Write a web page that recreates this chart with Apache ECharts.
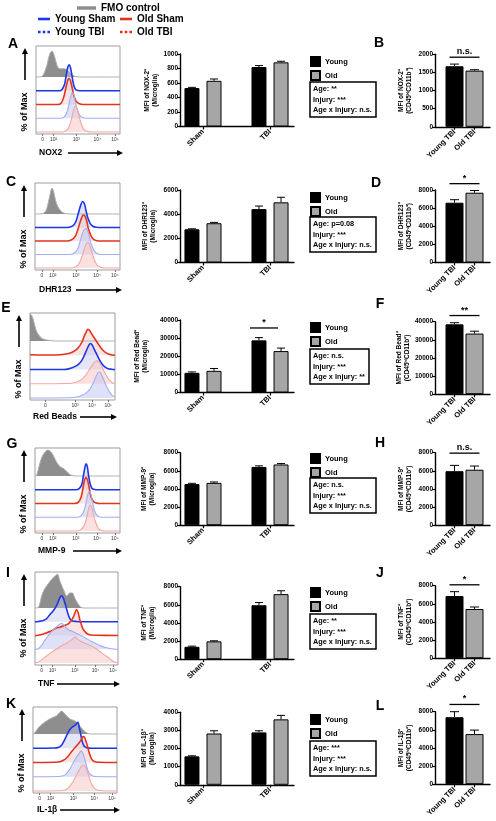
<!DOCTYPE html>
<html>
<head>
<meta charset="utf-8">
<script src="https://cdn.jsdelivr.net/npm/echarts@6.0.0/dist/echarts.min.js"></script>
<style>
html,body{margin:0;padding:0;background:#fff;}
#chart{width:496px;height:821px;}
</style>
</head>
<body>
<div id="chart"></div>
<script>
// ================= DATA =================
const legendNames = ['FMO control', 'Young Sham', 'Old Sham', 'Young TBI', 'Old TBI'];
const leftLetters = ['A', 'C', 'E', 'G', 'I', 'K'];
const rightLetters = ['B', 'D', 'F', 'H', 'J', 'L'];
const markerNames = ['NOX2', 'DHR123', 'Red Beads', 'MMP-9', 'TNF', 'IL-1β'];
const mfiNames = ['MFI of NOX-2⁺', 'MFI of DHR123⁺', 'MFI of Red Bead⁺', 'MFI of MMP-9⁺', 'MFI of TNF⁺', 'MFI of IL-1β⁺'];
const midSub = '(Microglia)';
const rightSub = '(CD45ʰⁱCD11b⁺)';
const groupCats = ['Sham', 'TBI'];
const tbiCats = ['Young TBI', 'Old TBI'];
const barNames = ['Young', 'Old'];

const midMax = [1000, 6000, 40000, 8000, 8000, 4000];
const midStep = [200, 2000, 10000, 2000, 2000, 1000];
const rightMax = [2000, 8000, 40000, 8000, 8000, 8000];
const rightStep = [500, 2000, 10000, 2000, 2000, 2000];

// middle charts: [Sham, TBI]
const youngMean = [[530, 820], [2750, 4420], [10850, 28770], [4540, 6430], [1370, 5950], [1570, 2890]];
const youngErr  = [[10, 20], [40, 250], [500, 1500], [80, 120], [70, 300], [30, 90]];
const oldMean   = [[630, 885], [3250, 4980], [11950, 22850], [4670, 6700], [1970, 7180], [2830, 3610]];
const oldErr    = [[25, 15], [70, 420], [1300, 1650], [100, 100], [60, 370], [150, 220]];
const midSig = ['', '', '*', '', '', ''];
const midSigLevel = [0, 0, 35600, 0, 0, 0];

// right charts: Young TBI, Old TBI
const tbiYoung    = [1670, 6600, 38530, 5960, 6860, 7390];
const tbiYoungErr = [60, 330, 900, 640, 480, 610];
const tbiOld      = [1550, 7700, 33460, 6120, 5430, 5530];
const tbiOldErr   = [25, 250, 1300, 410, 220, 440];
const tbiSig = ['n.s.', '*', '**', 'n.s.', '*', '*'];
const tbiSigLevel = [1920, 8700, 43400, 7950, 8100, 8800];

const statsLines = [
  ['Age: **', 'Injury: ***', 'Age x Injury: n.s.'],
  ['Age: p=0.08', 'Injury: ***', 'Age x Injury: n.s.'],
  ['Age: n.s.', 'Injury: ***', 'Age x Injury: **'],
  ['Age: n.s.', 'Injury: ***', 'Age x Injury: n.s.'],
  ['Age: **', 'Injury: ***', 'Age x Injury: n.s.'],
  ['Age: ***', 'Injury: ***', 'Age x Injury: n.s.']
];

// histogram axis ticks (display position 0..100 across the frame)
const histTickLabels = ['0', '10²', '10³', '10⁴', '10⁵'];
const histTickPos = [8, 21, 48, 73, 94];
const histTickLabelsE = ['0', '10³', '10⁴', '10⁵'];
const histTickPosE = [18, 53, 73, 92];

const laneOrderStd = ['FMO control', 'Young Sham', 'Old Sham', 'Young TBI', 'Old TBI'];
const laneOrderE = ['FMO control', 'Old Sham', 'Young Sham', 'Old TBI', 'Young TBI'];

// histograms: [position, % of max]
const histA_FMO = [[0,0],[6,1],[9,10],[13,45],[16,85],[19,100],[22,80],[25,45],[28,32],[32,32],[36,30],[40,18],[44,6],[48,1],[55,0],[100,0]];
const histA_YS = [[0,0],[28,0],[31,5],[34,25],[36,60],[38,92],[39.5,100],[41,90],[43,55],[45,20],[47,6],[50,1],[55,0],[100,0]];
const histA_OS = [[0,0],[26,0],[30,6],[33,28],[36,70],[38,95],[39.5,100],[41,92],[43,65],[45,35],[48,12],[51,4],[56,0],[100,0]];
const histA_YT = [[0,0],[30,0],[34,6],[37,25],[40,65],[42,92],[43.5,100],[45,90],[47,60],[50,25],[53,8],[57,1],[62,0],[100,0]];
const histA_OT = [[0,0],[32,0],[36,5],[40,25],[43,60],[45,88],[47,100],[49,90],[51,65],[54,30],[57,10],[61,2],[66,0],[100,0]];

const histC_FMO = [[0,0],[8,1],[12,8],[15,35],[18,80],[20,100],[22,85],[24,55],[26,35],[28,22],[31,10],[34,4],[38,1],[44,0],[100,0]];
const histC_YS = [[0,0],[38,0],[44,5],[48,22],[51,55],[54,88],[56,100],[58,92],[60,65],[62,38],[65,15],[68,5],[72,1],[78,0],[100,0]];
const histC_OS = [[0,0],[38,0],[44,6],[48,22],[51,50],[54,82],[57,100],[59,95],[61,75],[63,45],[66,20],[69,6],[73,1],[78,0],[100,0]];
const histC_YT = [[0,0],[40,0],[46,5],[50,20],[53,50],[56,82],[58,96],[60,100],[62,90],[64,68],[66,42],[69,18],[72,6],[76,1],[80,0],[100,0]];
const histC_OT = [[0,0],[42,0],[48,5],[52,18],[55,42],[58,72],[60,90],[62,100],[64,92],[66,72],[68,48],[71,22],[74,8],[78,2],[82,0],[100,0]];

const histE_FMO = [[0,105],[2,98],[4,80],[6,55],[8,35],[11,20],[14,10],[18,5],[23,2],[30,0],[100,0]];
const histE_OS = [[0,2],[20,1],[35,2],[42,5],[48,10],[53,18],[57,30],[61,50],[64,75],[66,88],[68,100],[70,96],[72,85],[75,70],[78,55],[81,40],[85,22],[89,10],[93,4],[97,1],[100,0]];
const histE_YS = [[0,0],[40,0],[47,4],[52,10],[57,20],[61,35],[64,55],[67,78],[69,92],[71,100],[73,95],[75,82],[78,62],[81,42],[84,25],[88,10],[92,3],[96,1],[100,0]];
const histE_OT = [[0,0],[45,1],[52,4],[57,10],[62,20],[66,35],[70,55],[74,75],[77,86],[79,88],[82,80],[85,62],[88,42],[91,25],[94,12],[97,4],[100,1]];
const histE_YT = [[0,0],[48,1],[55,4],[60,9],[65,17],[70,32],[74,55],[77,78],[80,98],[82,100],[84,90],[87,68],[90,45],[93,26],[96,12],[100,4]];

const histG_FMO = [[0,0],[2,3],[5,40],[8,72],[11,88],[15,100],[18,95],[21,82],[24,62],[27,45],[30,35],[33,30],[36,22],[39,12],[42,4],[45,1],[50,0],[100,0]];
const histG_YS = [[0,0],[48,0],[52,4],[55,20],[57,55],[59,90],[60,100],[61.5,90],[63,55],[65,22],[67,6],[70,1],[74,0],[100,0]];
const histG_OS = [[0,0],[47,0],[51,5],[54,22],[56,50],[58,85],[60,100],[62,88],[64,55],[66,25],[69,7],[72,2],[76,0],[100,0]];
const histG_YT = [[0,0],[50,0],[54,5],[57,20],[60,55],[62,85],[64,100],[66,85],[68,55],[70,25],[73,7],[76,1],[80,0],[100,0]];
const histG_OT = [[0,0],[50,0],[54,5],[58,22],[61,55],[63,85],[65,100],[67,88],[69,60],[72,28],[75,8],[78,2],[82,0],[100,0]];

const histI_FMO = [[0,0],[4,2],[8,46],[11,70],[14,85],[17,98],[20,110],[24,122],[27,130],[30,104],[33,80],[36,58],[38,46],[40,52],[42,58],[45,58],[48,38],[52,15],[55,4],[58,0],[100,0]];
const histI_YS = [[0,0],[4,1],[10,5],[14,12],[18,28],[22,42],[26,62],[29,85],[31,98],[32,100],[34,92],[36,72],[38,50],[40,28],[42,12],[45,3],[50,1],[55,0],[100,0]];
const histI_OS = [[0,0],[4,1],[10,6],[15,12],[20,18],[25,28],[30,32],[35,38],[40,45],[43,55],[46,70],[48,85],[50,100],[52,88],[54,60],[56,40],[58,24],[61,12],[64,5],[68,2],[75,1],[100,0]];
const histI_YT = [[0,0],[4,2],[8,15],[12,35],[16,52],[20,68],[24,80],[28,92],[32,100],[36,88],[40,75],[44,70],[48,64],[52,58],[56,52],[60,45],[64,37],[68,30],[72,24],[76,17],[80,12],[85,7],[90,3],[95,1],[100,0]];
const histI_OT = [[0,0],[3,2],[8,12],[13,25],[18,38],[23,48],[28,58],[33,68],[38,76],[43,86],[46,94],[48,100],[51,92],[55,84],[60,76],[65,70],[70,62],[74,54],[78,44],[82,35],[86,26],[90,16],[94,7],[98,2],[100,0]];

const histK_FMO = [[0,0],[2,4],[6,22],[11,38],[16,50],[20,58],[24,64],[28,70],[31,80],[34,88],[36,84],[38,77],[41,66],[44,58],[47,54],[50,50],[53,42],[56,30],[59,18],[62,9],[65,3],[68,0],[100,0]];
const histK_YS = [[0,0],[25,1],[30,3],[34,12],[38,35],[41,55],[44,72],[47,82],[50,88],[52,95],[53.5,100],[55,80],[57,50],[59,22],[61,8],[64,2],[70,0],[100,0]];
const histK_OS = [[0,0],[25,1],[32,3],[38,12],[42,25],[46,42],[50,58],[54,72],[57,85],[59,98],[60.5,100],[62,92],[64,72],[66,48],[68,27],[70,12],[73,4],[78,1],[100,0]];
const histK_YT = [[0,0],[30,1],[36,4],[40,12],[44,30],[48,55],[51,72],[54,85],[56,95],[57.5,100],[59,92],[61,75],[63,50],[65,28],[67,14],[70,5],[74,1],[100,0]];
const histK_OT = [[0,0],[32,1],[38,4],[42,12],[46,28],[50,50],[54,75],[57,92],[59.5,100],[62,95],[64,82],[66,62],[68,40],[71,20],[74,8],[78,2],[100,0]];

// ================= LAYOUT / STYLE =================
const FONT = 'Liberation Sans, Arial, Helvetica, sans-serif';
const histRows = [
  {'FMO control': histA_FMO, 'Young Sham': histA_YS, 'Old Sham': histA_OS, 'Young TBI': histA_YT, 'Old TBI': histA_OT},
  {'FMO control': histC_FMO, 'Young Sham': histC_YS, 'Old Sham': histC_OS, 'Young TBI': histC_YT, 'Old TBI': histC_OT},
  {'FMO control': histE_FMO, 'Young Sham': histE_YS, 'Old Sham': histE_OS, 'Young TBI': histE_YT, 'Old TBI': histE_OT},
  {'FMO control': histG_FMO, 'Young Sham': histG_YS, 'Old Sham': histG_OS, 'Young TBI': histG_YT, 'Old TBI': histG_OT},
  {'FMO control': histI_FMO, 'Young Sham': histI_YS, 'Old Sham': histI_OS, 'Young TBI': histI_YT, 'Old TBI': histI_OT},
  {'FMO control': histK_FMO, 'Young Sham': histK_YS, 'Old Sham': histK_OS, 'Young TBI': histK_YT, 'Old TBI': histK_OT}
];
const laneOrders = [laneOrderStd, laneOrderStd, laneOrderE, laneOrderStd, laneOrderStd, laneOrderStd];
const tickSets = [[histTickPos, histTickLabels], [histTickPos, histTickLabels], [histTickPosE, histTickLabelsE],
                  [histTickPos, histTickLabels], [histTickPos, histTickLabels], [histTickPos, histTickLabels]];

const histStyle = {
  'FMO control': {line: '#b0b0b0', w: 1, area: '#8e8e8e'},
  'Young Sham': {line: '#1f35e8', w: 1.6, area: 'rgba(195,200,240,0.45)'},
  'Old Sham':   {line: '#e2341d', w: 1.6, area: 'rgba(240,195,190,0.45)'},
  'Young TBI':  {line: '#a3adf2', w: 1.1, area: 'rgba(195,200,242,0.55)'},
  'Old TBI':    {line: '#f2a6a2', w: 1.1, area: 'rgba(246,200,198,0.55)'}
};

const boxLeft = [36, 35, 30, 35, 35, 33];
const boxRight = [120, 120, 115, 120, 118, 117];
const boxTop = [46, 183, 313, 448, 572, 707];
const boxBottom = [134, 270, 400, 533, 665, 793];
const laneGap = [13.75, 13.5, 14.25, 13.75, 13.75, 14.25];
const laneH = 26;
const markerX = [39, 39, 33, 38, 38, 37];
const markerY = [153, 290, 417, 551, 684, 810];
const markerArrow = [[68, 123], [76, 122], [80, 117], [73, 122], [57, 120], [60, 120]];

const plotH = 72.5;
const midTop = [54, 190, 320, 452.7, 586.7, 712.3];
const midLeft = 180, midWidth = 114, midXMin = 0.657, midXMax = 2.358, midBarW = 15, midGapPct = 0.47;
const midNameGap = [21, 23, 31, 24, 24, 24];
const rightTop = [54.3, 190, 321.7, 452.7, 585.7, 711.7];
const rightLeft = 435, rightWidth = 55, rightXMin = 0.025, rightXMax = 2.775, rightBarW = 18;
const rightNameGap = [22, 22, 22, 22, 22, 22];

const leftLetterPos = [[13, 44], [11, 182], [6, 308], [12, 444], [8, 573], [11, 704]];
const rightLetterPos = [[379, 43], [376, 183], [380, 304], [380, 443], [380, 573], [380, 706]];
const rowLegendTop = [56, 192, 322, 453, 587, 714];
const statsTop = [82, 217, 349, 478, 614, 741];
const statsLeft = 310;

// ================= BUILD =================
const grid = [], xAxis = [], yAxis = [], series = [], title = [], legend = [], graphic = [];
function addGrid(g, xa, ya) {
  grid.push(g);
  const i = grid.length - 1;
  xAxis.push(Object.assign({gridIndex: i}, xa));
  yAxis.push(Object.assign({gridIndex: i}, ya));
  return i;
}
function barXAxis(min, max, cats) {
  const vals = cats.map((c, i) => i + 1);
  return {
    type: 'value', min, max,
    axisLine: {show: true, onZero: false, lineStyle: {color: '#000', width: 1.4}},
    axisTick: {show: true, customValues: vals, length: 3, lineStyle: {color: '#000', width: 1.2}},
    axisLabel: {show: true, customValues: vals, formatter: v => cats[Math.round(v) - 1], rotate: 45,
      fontSize: 7.5, fontWeight: 'bold', color: '#000', margin: 4, fontFamily: FONT},
    splitLine: {show: false}
  };
}
function barYAxis(max, step, name, gap) {
  return {
    type: 'value', min: 0, max, interval: step,
    axisLine: {show: true, lineStyle: {color: '#000', width: 1.4}},
    axisTick: {show: true, length: 3, lineStyle: {color: '#000', width: 1.2}},
    axisLabel: {fontSize: 6.5, fontWeight: 'bold', color: '#000', margin: 2, fontFamily: FONT, formatter: v => String(v)},
    splitLine: {show: false},
    name, nameLocation: 'middle', nameRotate: 90, nameGap: gap,
    nameTextStyle: {fontSize: 6.5, fontWeight: 'bold', color: '#000', lineHeight: 8, fontFamily: FONT}
  };
}
function errSeries(gi, data, offsetPx, cap) {
  return {
    type: 'custom', name: 'err', xAxisIndex: gi, yAxisIndex: gi, data, z: 5, silent: true,
    renderItem(params, api) {
      const x = api.value(0), m = api.value(1), e = api.value(2);
      const a = api.coord([x, m]), b = api.coord([x, m + e]);
      const cx = a[0] + offsetPx;
      return {type: 'group', children: [
        {type: 'line', shape: {x1: cx, y1: a[1], x2: cx, y2: b[1]}, style: {stroke: '#000', lineWidth: 1}},
        {type: 'line', shape: {x1: cx - cap, y1: b[1], x2: cx + cap, y2: b[1]}, style: {stroke: '#000', lineWidth: 1}}
      ]};
    }
  };
}
function sigSeries(gi, data, label, padL, padR) {
  return {
    type: 'custom', name: 'sig', xAxisIndex: gi, yAxisIndex: gi, data, z: 5, silent: true,
    renderItem(params, api) {
      const a = api.coord([api.value(0), api.value(2)]);
      const b = api.coord([api.value(1), api.value(2)]);
      const x1 = a[0] + padL, x2 = b[0] + padR;
      return {type: 'group', children: [
        {type: 'line', shape: {x1, y1: a[1], x2, y2: a[1]}, style: {stroke: '#000', lineWidth: 1.3}},
        {type: 'text', x: (x1 + x2) / 2, y: a[1] - 1,
          style: {text: label, textAlign: 'center', textVerticalAlign: 'bottom',
            font: 'bold 9px ' + FONT, fill: '#000'}}
      ]};
    }
  };
}
function txt(x, y, text, font, opts) {
  return Object.assign({type: 'text', x, y, silent: true,
    style: {text, font, fill: '#000', textAlign: 'left', textVerticalAlign: 'middle'}}, opts || {});
}

for (let r = 0; r < 6; r++) {
  // ---------- histogram ----------
  const bl = boxLeft[r], bw = boxRight[r] - bl, bt = boxTop[r], bb = boxBottom[r];
  const tp = tickSets[r][0], tl = tickSets[r][1];
  addGrid({left: bl, top: bt, width: bw, height: bb - bt, show: true, borderColor: '#9d9d9d', borderWidth: 1, backgroundColor: 'transparent'},
    {type: 'value', min: 0, max: 100, axisLine: {show: false}, splitLine: {show: false},
      axisTick: {show: true, customValues: tp, length: 2, lineStyle: {color: '#555', width: 0.8}},
      axisLabel: {show: true, customValues: tp, formatter: v => tl[tp.indexOf(v)], fontSize: 5, color: '#333', margin: 3, fontFamily: FONT}},
    {type: 'value', min: 0, max: 1, show: false});
  for (let i = 0; i < 5; i++) {
    const name = laneOrders[r][i];
    const base = bb - 2 - (4 - i) * laneGap[r];
    const g = addGrid({left: bl, top: base - laneH, width: bw, height: laneH},
      {type: 'value', min: 0, max: 100, show: false},
      {type: 'value', min: 0, max: 100, show: false});
    const st = histStyle[name];
    series.push({type: 'line', name, xAxisIndex: g, yAxisIndex: g, data: histRows[r][name],
      smooth: 0.35, symbol: 'none', clip: false, silent: true,
      lineStyle: {color: st.line, width: st.w}, itemStyle: {color: st.line},
      areaStyle: {color: st.area, opacity: 1}});
  }
  // axis titles with arrows
  const my = markerY[r], ar = markerArrow[r];
  graphic.push(txt(markerX[r], my, markerNames[r], 'bold 8.5px ' + FONT));
  graphic.push({type: 'line', silent: true, shape: {x1: ar[0], y1: my, x2: ar[1] - 5, y2: my}, style: {stroke: '#000', lineWidth: 1.6}});
  graphic.push({type: 'polygon', silent: true, shape: {points: [[ar[1] - 6, my - 3], [ar[1], my], [ar[1] - 6, my + 3]]}, style: {fill: '#000'}});
  const px = bl - 11;
  graphic.push({type: 'line', silent: true, shape: {x1: px, y1: bt + 8, x2: px, y2: bt + 34}, style: {stroke: '#000', lineWidth: 1.6}});
  graphic.push({type: 'polygon', silent: true, shape: {points: [[px - 3, bt + 8], [px, bt + 2], [px + 3, bt + 8]]}, style: {fill: '#000'}});
  graphic.push(txt(px, bt + 66, '% of Max', 'bold 9px ' + FONT, {rotation: Math.PI / 2,
    style: {text: '% of Max', font: 'bold 9px ' + FONT, fill: '#000', textAlign: 'center', textVerticalAlign: 'middle'}}));

  // ---------- middle bar chart ----------
  const gm = addGrid({left: midLeft, top: midTop[r], width: midWidth, height: plotH},
    barXAxis(midXMin, midXMax, groupCats),
    barYAxis(midMax[r], midStep[r], mfiNames[r] + '\n' + midSub, midNameGap[r]));
  series.push({type: 'bar', name: 'Young', xAxisIndex: gm, yAxisIndex: gm, silent: true,
    data: groupCats.map((c, i) => [i + 1, youngMean[r][i]]), barWidth: midBarW, barGap: (midGapPct * 100) + '%',
    itemStyle: {color: '#000', borderColor: '#000', borderWidth: 1}});
  series.push({type: 'bar', name: 'Old', xAxisIndex: gm, yAxisIndex: gm, silent: true,
    data: groupCats.map((c, i) => [i + 1, oldMean[r][i]]), barWidth: midBarW, barGap: (midGapPct * 100) + '%',
    itemStyle: {color: '#a6a6a6', borderColor: '#000', borderWidth: 1}});
  const off = midBarW * (1 + midGapPct) / 2;
  series.push(errSeries(gm, groupCats.map((c, i) => [i + 1, youngMean[r][i], youngErr[r][i]]), -off, 4));
  series.push(errSeries(gm, groupCats.map((c, i) => [i + 1, oldMean[r][i], oldErr[r][i]]), off, 4));
  if (midSig[r]) series.push(sigSeries(gm, [[2, 2, midSigLevel[r]]], midSig[r], -off - 9, off - 3));

  // ---------- right bar chart ----------
  const gr = addGrid({left: rightLeft, top: rightTop[r], width: rightWidth, height: plotH},
    barXAxis(rightXMin, rightXMax, tbiCats),
    barYAxis(rightMax[r], rightStep[r], mfiNames[r] + '\n' + rightSub, rightNameGap[r]));
  series.push({type: 'bar', name: 'Young', xAxisIndex: gr, yAxisIndex: gr, silent: true,
    data: [[1, tbiYoung[r]]], barWidth: rightBarW, barGap: '-100%',
    itemStyle: {color: '#000', borderColor: '#000', borderWidth: 1}});
  series.push({type: 'bar', name: 'Old', xAxisIndex: gr, yAxisIndex: gr, silent: true,
    data: [[2, tbiOld[r]]], barWidth: rightBarW, barGap: '-100%',
    itemStyle: {color: '#a6a6a6', borderColor: '#000', borderWidth: 1}});
  series.push(errSeries(gr, [[1, tbiYoung[r], tbiYoungErr[r]]], 0, 4.5));
  series.push(errSeries(gr, [[2, tbiOld[r], tbiOldErr[r]]], 0, 4.5));
  series.push(sigSeries(gr, [[1, 2, tbiSigLevel[r]]], tbiSig[r], -5, 5));

  // ---------- letters, legend, stats ----------
  graphic.push(txt(leftLetterPos[r][0], leftLetterPos[r][1], leftLetters[r], 'bold 14px ' + FONT,
    {style: {text: leftLetters[r], font: 'bold 14px ' + FONT, fill: '#000', textAlign: 'center', textVerticalAlign: 'middle'}}));
  graphic.push(txt(rightLetterPos[r][0], rightLetterPos[r][1], rightLetters[r], 'bold 14px ' + FONT,
    {style: {text: rightLetters[r], font: 'bold 14px ' + FONT, fill: '#000', textAlign: 'center', textVerticalAlign: 'middle'}}));
  legend.push({data: barNames, orient: 'vertical', left: statsLeft, top: rowLegendTop[r], padding: 0,
    itemWidth: 9, itemHeight: 9, itemGap: 3, icon: 'rect', selectedMode: false,
    textStyle: {fontSize: 7.5, fontWeight: 'bold', color: '#000', fontFamily: FONT}});
  title.push({text: statsLines[r].join('\n'), left: statsLeft, top: statsTop[r], padding: [2, 4, 2, 3],
    borderColor: '#000', borderWidth: 1.5,
    textStyle: {fontSize: 7.3, fontWeight: 'bold', color: '#000', lineHeight: 10.5, fontFamily: FONT}});
}

// ---------- top legend for histograms ----------
const dotIcon = 'path://M0,0h2.6v2.6h-2.6zM4.7,0h2.6v2.6h-2.6zM9.4,0h2.6v2.6h-2.6z';
const topLegendPos = [[77, 3], [38, 14], [120, 14], [38, 27], [120, 27]];
const topLegendIcon = ['rect', 'rect', 'rect', dotIcon, dotIcon];
const topLegendColor = ['#8e8e8e', '#1f35e8', '#e2341d', '#1f35e8', '#e2341d'];
legendNames.forEach((n, i) => {
  legend.push({data: [{name: n, icon: topLegendIcon[i], itemStyle: {color: topLegendColor[i], borderWidth: 0}}],
    left: topLegendPos[i][0], top: topLegendPos[i][1], padding: 0,
    itemWidth: i === 0 ? 19 : 12, itemHeight: i === 0 ? 3.5 : 2.6, selectedMode: false,
    textStyle: {fontSize: 10, fontWeight: 'bold', color: '#000', fontFamily: FONT}});
});

const chart = echarts.init(document.getElementById('chart'), null, {renderer: 'canvas', width: 496, height: 821});
chart.setOption({
  animation: false,
  backgroundColor: '#fff',
  textStyle: {fontFamily: FONT},
  grid, xAxis, yAxis, series, title, legend,
  graphic: {elements: graphic}
});
</script>
</body>
</html>
